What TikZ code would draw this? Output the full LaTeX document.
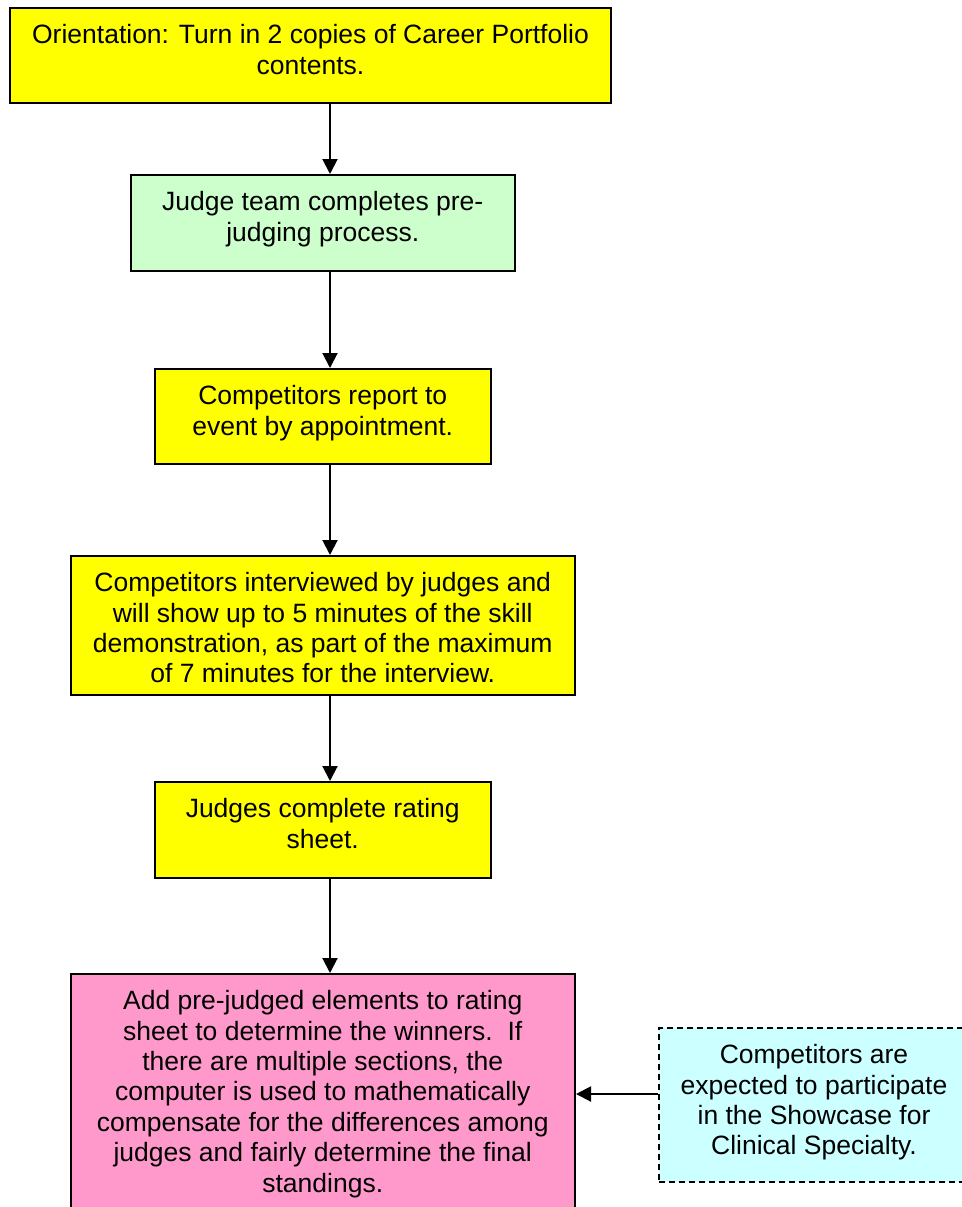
\documentclass[tikz,border=0pt]{standalone}
\usepackage{fontspec}
\setmainfont{Liberation Sans}
\usetikzlibrary{arrows.meta}
\definecolor{lemon}{HTML}{FFFF00}
\definecolor{mint}{HTML}{CCFFCC}
\definecolor{rose}{HTML}{FF99CC}
\definecolor{icecyan}{HTML}{CCFFFF}
\newcommand{\boxtext}[3]{\parbox[t][#2][t]{#1}{\centering\vspace*{14.5pt}\strut #3}}

\begin{document}
\begin{tikzpicture}[x=1pt, y=-1pt,
        flowbox/.style={draw, line width=2pt, inner sep=0pt, font=\fontsize{26.5}{30.4}\selectfont},
        sidebox/.style={flowbox, line width=1.8pt, dash pattern=on 6pt off 4pt},
        arr/.style={line width=2pt, -{Triangle[length=15pt,width=15pt]}}]
        \useasboundingbox (0,0) rectangle (961,1207);

        % Define boxes
        \node[flowbox, fill=lemon] (orient) at (310.5,55.5)
            {\boxtext{601pt}{95pt}{Orientation: Turn in 2 copies of Career Portfolio\\contents.}};
        \node[flowbox, fill=mint] (prejudge) at (322.75,223)
            {\boxtext{384.5pt}{96pt}{Judge team completes pre-\\judging process.}};
        \node[flowbox, fill=lemon] (report) at (322.75,416.5)
            {\boxtext{336.5pt}{95pt}{Competitors report to\\event by appointment.}};
        \node[flowbox, fill=lemon] (interview) at (322.75,625.5)
            {\boxtext{504.5pt}{139pt}{Competitors interviewed by judges and\\will show up to 5 minutes of the skill\\demonstration, as part of the maximum\\of 7 minutes for the interview.}};
        \node[flowbox, fill=lemon] (rating) at (322.75,830)
            {\boxtext{336.5pt}{96pt}{Judges complete rating\\sheet.}};
        \node[flowbox, fill=rose] (final) at (322.75,1099)
            {\boxtext{504.5pt}{250pt}{Add pre-judged elements to rating\\sheet to determine the winners.\ \ If\\there are multiple sections, the\\computer is used to mathematically\\compensate for the differences among\\judges and fairly determine the final\\standings.}};
        \node[sidebox, fill=icecyan] (showcase) at (814,1105)
            {\boxtext{310pt}{154pt}{Competitors are\\expected to participate\\in the Showcase for\\Clinical Specialty.}};

        % Draw arrows
        \coordinate (spine) at (330,0);
        \draw[arr] (orient.south -| spine) -- (prejudge.north -| spine);
        \draw[arr] (prejudge.south -| spine) -- (report.north -| spine);
        \draw[arr] (report.south -| spine) -- (interview.north -| spine);
        \draw[arr] (interview.south -| spine) -- (rating.north -| spine);
        \draw[arr] (rating.south -| spine) -- (final.north -| spine);
        \draw[arr] ([yshift=11pt]showcase.west) -- ([yshift=11pt]showcase.west -| final.east);
    \end{tikzpicture}
\end{document}
